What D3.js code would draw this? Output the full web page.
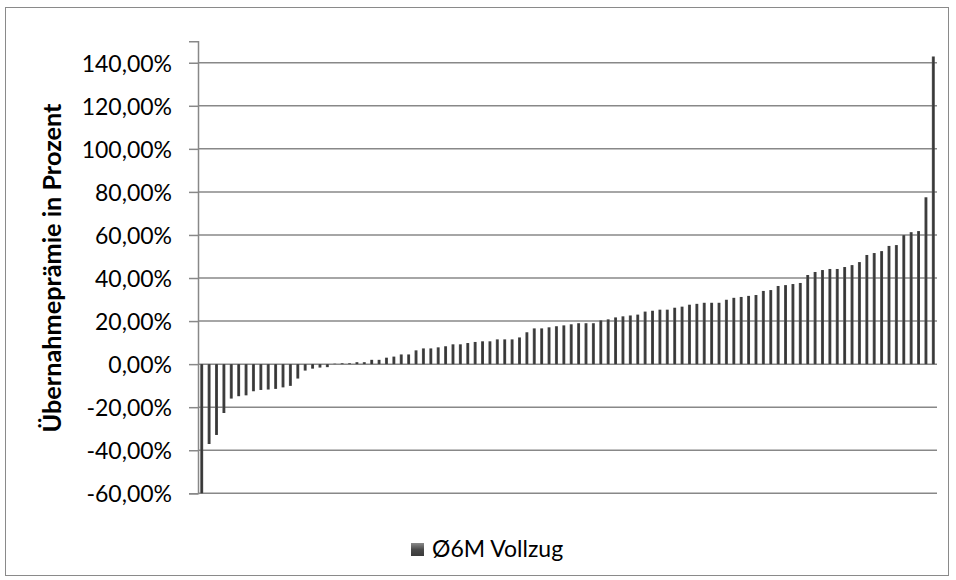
<!DOCTYPE html>
<html>
<head>
<meta charset="utf-8">
<script src="https://cdn.jsdelivr.net/npm/d3@7"></script>
<style>
  html, body { margin: 0; padding: 0; background: #fff; }
  svg { display: block; }
  text { font-family: Lato, "Open Sans", sans-serif; fill: #000; }
</style>
</head>
<body>
<svg id="chart" width="956" height="580"></svg>
<script>
// Übernahmeprämie (Ø 6 Monate vor Vollzug), aufsteigend sortiert
const categories = d3.range(1, 101).map(String);
const premiums = [
  -60.0, -37.1, -32.9, -22.7, -16.0, -14.9, -14.5, -12.6, -12.0, -11.8,
  -11.5, -10.8, -10.1, -6.7, -3.0, -2.1, -1.6, -1.4, 0.2, 0.4,
  0.4, 0.9, 0.9, 2.0, 2.0, 3.0, 3.5, 4.5, 4.5, 6.4,
  7.3, 7.3, 7.8, 8.3, 9.2, 9.2, 9.8, 10.3, 10.6, 10.6,
  11.5, 11.5, 11.5, 12.4, 14.8, 16.6, 16.6, 17.1, 17.6, 18.0,
  18.5, 19.0, 19.0, 19.0, 20.3, 20.8, 21.7, 22.2, 22.6, 23.0,
  24.4, 24.8, 25.3, 25.3, 26.2, 26.7, 27.6, 28.0, 28.5, 28.5,
  28.5, 29.9, 30.8, 31.2, 31.7, 32.1, 34.0, 34.4, 36.3, 36.7,
  37.2, 37.7, 41.4, 42.8, 43.7, 44.2, 44.2, 45.1, 46.0, 47.4,
  50.7, 51.6, 52.5, 54.9, 55.3, 59.9, 61.3, 61.8, 77.5, 142.9
];
const yTicks = [-60, -40, -20, 0, 20, 40, 60, 80, 100, 120, 140];
const yDomain = [-60, 150];
const seriesName = "Ø6M Vollzug";
const yTitle = "Übernahmeprämie in Prozent";

const svg = d3.select("#chart");
const plot = { left: 198, right: 937, top: 41.2, bottom: 493.3 };
const gridColor = "#888888";
const labelSize = "23px";

// outer chart frame
svg.append("rect")
  .attr("x", 5.5).attr("y", 7.5)
  .attr("width", 943).attr("height", 568)
  .attr("fill", "#fff").attr("stroke", "#8a8a8a").attr("stroke-width", 1);

const defs = svg.append("defs");
const grad = defs.append("linearGradient").attr("id", "barShade")
  .attr("x1", "0%").attr("x2", "100%").attr("y1", "0%").attr("y2", "0%");
grad.append("stop").attr("offset", "0%").attr("stop-color", "#5e5e5e");
grad.append("stop").attr("offset", "45%").attr("stop-color", "#353535");
grad.append("stop").attr("offset", "100%").attr("stop-color", "#474747");

const x = d3.scaleBand()
  .domain(categories)
  .range([plot.left, plot.right])
  .paddingInner(0.6)
  .paddingOuter(0.3);

const y = d3.scaleLinear().domain(yDomain).range([plot.bottom, plot.top]);

// German number format with a plain hyphen as minus sign
const locale = d3.formatLocale({ decimal: ",", thousands: ".", grouping: [3], currency: ["", " €"], minus: "-" });
const fmt = locale.format(".2f");

// horizontal gridlines
svg.append("g").selectAll("line")
  .data(yTicks)
  .join("line")
  .attr("x1", plot.left).attr("x2", plot.right)
  .attr("y1", d => y(d)).attr("y2", d => y(d))
  .attr("stroke", gridColor).attr("stroke-width", 1.5);

// bars
svg.append("g").selectAll("rect")
  .data(premiums)
  .join("rect")
  .attr("x", (d, i) => x(categories[i]))
  .attr("width", x.bandwidth())
  .attr("y", d => y(Math.max(0, d)))
  .attr("height", d => Math.abs(y(d) - y(0)))
  .attr("fill", "url(#barShade)");

// value axis
const yAxis = d3.axisLeft(y)
  .tickValues(yTicks)
  .tickFormat(d => fmt(d) + "%")
  .tickSize(9)
  .tickPadding(17);

const gy = svg.append("g")
  .attr("transform", `translate(${plot.left},0)`)
  .call(yAxis);
gy.select(".domain").attr("stroke", gridColor).attr("stroke-width", 1.5);
gy.selectAll(".tick line").attr("stroke", gridColor).attr("stroke-width", 1.5);
gy.selectAll(".tick text")
  .style("font-family", "Lato, 'Open Sans', sans-serif")
  .style("font-size", labelSize)
  .attr("fill", "#000")
  .attr("dy", "0.36em");

// axis title, sized to its span beside the axis
const title = svg.append("text")
  .attr("transform", "translate(61,268) rotate(-90)")
  .attr("text-anchor", "middle")
  .style("font-weight", "bold")
  .style("font-size", "20px")
  .text(yTitle);
const tl = title.node().getComputedTextLength();
title.style("font-size", (20 * 329 / tl).toFixed(2) + "px");

// legend
const legend = svg.append("g").attr("transform", "translate(411,543)");
const lgrad = defs.append("linearGradient").attr("id", "legShade")
  .attr("x1", "0%").attr("x2", "0%").attr("y1", "0%").attr("y2", "100%");
lgrad.append("stop").attr("offset", "0%").attr("stop-color", "#8a8a8a");
lgrad.append("stop").attr("offset", "50%").attr("stop-color", "#4a4a4a");
lgrad.append("stop").attr("offset", "100%").attr("stop-color", "#3a3a3a");
legend.append("rect")
  .attr("width", 13).attr("height", 13)
  .attr("fill", "url(#legShade)");
legend.append("text")
  .attr("x", 21).attr("y", 14)
  .style("font-size", labelSize)
  .text(seriesName);
</script>
</body>
</html>
